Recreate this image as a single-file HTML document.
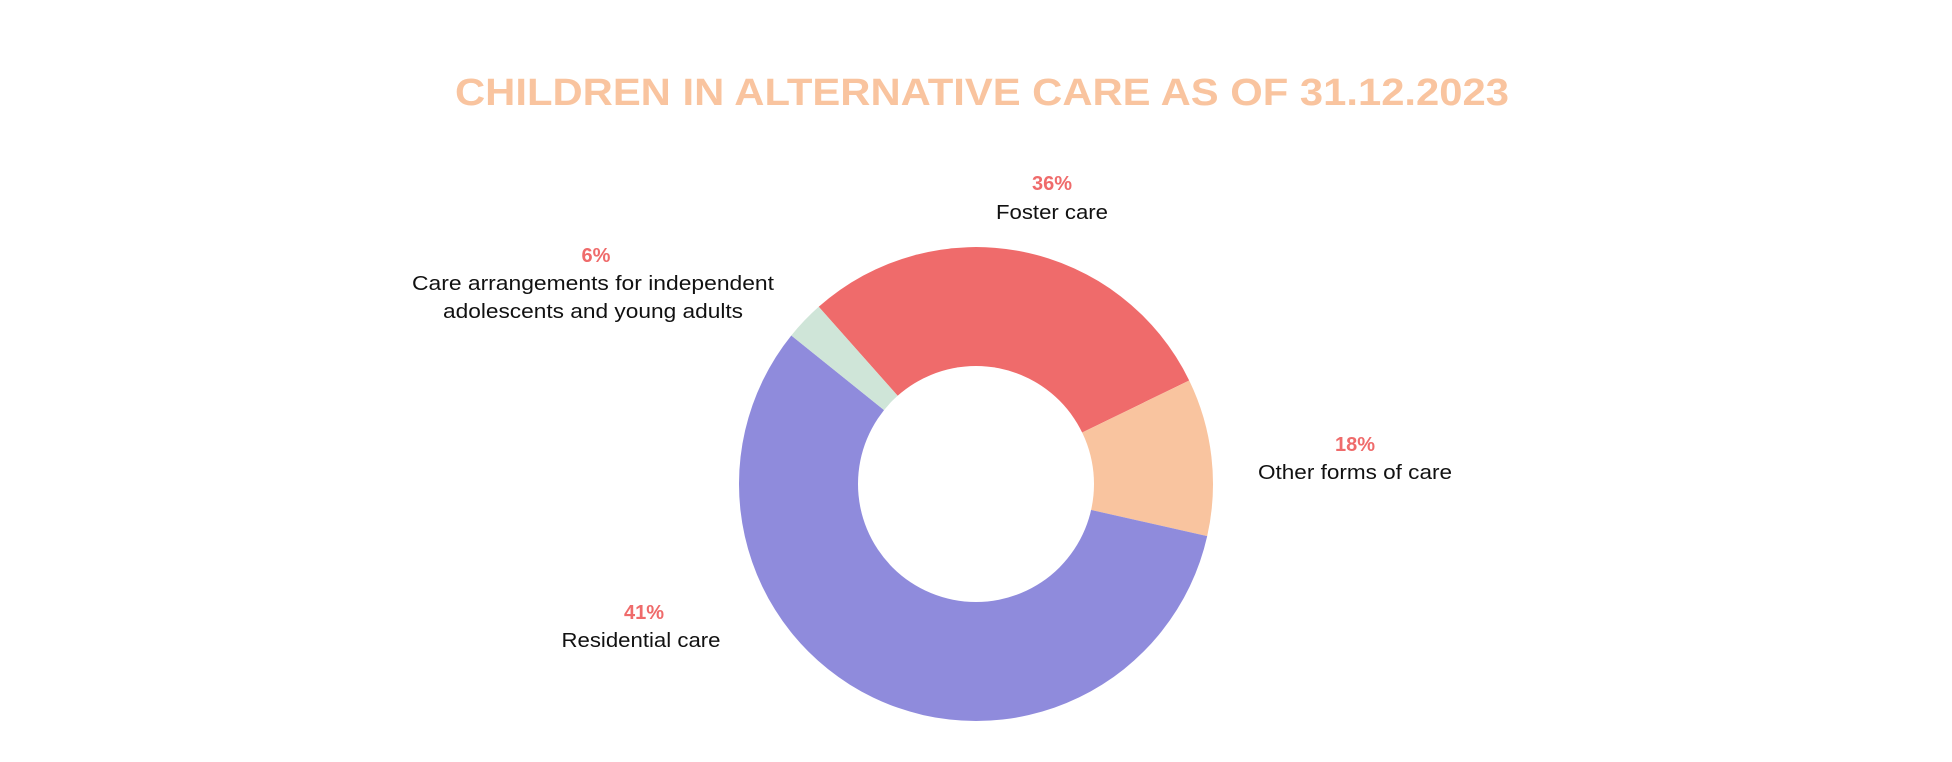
<!DOCTYPE html>
<html><head><meta charset="utf-8"><style>
html,body{margin:0;padding:0;background:#fff;}
svg{display:block;}
text{font-family:"Liberation Sans",sans-serif;}
</style></head><body>
<svg width="1952" height="762" viewBox="0 0 1952 762" xmlns="http://www.w3.org/2000/svg">
<text x="982" y="105" text-anchor="middle" font-size="38" font-weight="bold" fill="#f9c49f" textLength="1054" lengthAdjust="spacingAndGlyphs">CHILDREN IN ALTERNATIVE CARE AS OF 31.12.2023</text>
<path d="M976 484 L818.7 306.8 A237 237 0 0 1 1189.2 380.5 Z" fill="#ef6b6b"/>
<path d="M976 484 L1189.2 380.5 A237 237 0 0 1 1207.2 536.1 Z" fill="#f9c49f"/>
<path d="M976 484 L1207.2 536.1 A237 237 0 1 1 791.3 335.5 Z" fill="#8f8bdc"/>
<path d="M976 484 L791.3 335.5 A237 237 0 0 1 818.7 306.8 Z" fill="#cfe5d8"/>
<circle cx="976" cy="484" r="118" fill="#fff"/>
<g font-size="20" text-anchor="middle">
<text x="1052" y="190" font-weight="bold" fill="#ef6b6b">36%</text>
<text x="1052" y="219" fill="#111" textLength="112" lengthAdjust="spacingAndGlyphs">Foster care</text>
<text x="596" y="262" font-weight="bold" fill="#ef6b6b">6%</text>
<text x="593" y="290" fill="#111" textLength="362" lengthAdjust="spacingAndGlyphs">Care arrangements for independent</text>
<text x="593" y="318" fill="#111" textLength="300" lengthAdjust="spacingAndGlyphs">adolescents and young adults</text>
<text x="1355" y="451" font-weight="bold" fill="#ef6b6b">18%</text>
<text x="1355" y="479" fill="#111" textLength="194" lengthAdjust="spacingAndGlyphs">Other forms of care</text>
<text x="644" y="619" font-weight="bold" fill="#ef6b6b">41%</text>
<text x="641" y="647" fill="#111" textLength="159" lengthAdjust="spacingAndGlyphs">Residential care</text>
</g>
</svg>
</body></html>
